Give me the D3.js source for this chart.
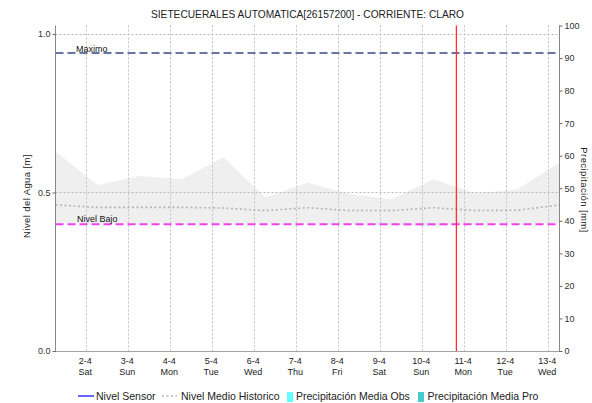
<!DOCTYPE html>
<html>
<head>
<meta charset="utf-8">
<script src="https://cdn.jsdelivr.net/npm/d3@7/dist/d3.min.js"></script>
<style>
  html, body { margin: 0; padding: 0; background: #fff; }
  svg { display: block; font-family: "Liberation Sans", Arial, sans-serif; }
</style>
</head>
<body>
<svg id="chart" width="592" height="403"></svg>
<script>
// ---- data ----
const title = "SIETECUERALES AUTOMATICA[26157200] - CORRIENTE: CLARO";
const dayStamps = ["2022-04-01 06:45","2022-04-02 06:45","2022-04-03 06:45","2022-04-04 06:45",
  "2022-04-05 06:45","2022-04-06 06:45","2022-04-07 06:45","2022-04-08 06:45","2022-04-09 06:45",
  "2022-04-10 06:45","2022-04-11 06:45","2022-04-12 06:45","2022-04-13 06:45"];
const histMax    = [0.629,0.524,0.552,0.542,0.611,0.484,0.531,0.495,0.479,0.542,0.497,0.510,0.594];
const histMin    = [0.402,0.402,0.402,0.402,0.402,0.402,0.402,0.400,0.396,0.392,0.402,0.402,0.402];
const histMedian = [0.461,0.453,0.453,0.453,0.451,0.443,0.452,0.443,0.443,0.452,0.443,0.444,0.461];
const nivelSensor = [];          // no sensor data in window
const precipObs = [];            // no observed precipitation
const precipPro = [];            // no forecast precipitation
const maximo = 0.94;
const nivelBajo = 0.40;
const nowStamp = "2022-04-10 19:50";
const xDomain = ["2022-04-01 06:45", "2022-04-13 06:45"];
const tickDays = ["2022-04-02","2022-04-03","2022-04-04","2022-04-05","2022-04-06","2022-04-07",
  "2022-04-08","2022-04-09","2022-04-10","2022-04-11","2022-04-12","2022-04-13"];
const leftTicks = [0.0, 0.5, 1.0];
const rightTicks = [0,10,20,30,40,50,60,70,80,90,100];
const legendItems = ["Nivel Sensor", "Nivel Medio Historico", "Precipitación Media Obs", "Precipitación Media Pro"];

// ---- layout ----
const svg = d3.select("#chart");
const L = 55.5, R = 559.5, T = 25.5, B = 351;
const pTime = d3.timeParse("%Y-%m-%d %H:%M");
const pDay = d3.timeParse("%Y-%m-%d");
const x = d3.scaleTime().domain(xDomain.map(pTime)).range([L, R]);
const y = d3.scaleLinear().domain([0, 1.0268]).range([B, T]);
const y2 = d3.scaleLinear().domain([0, 100]).range([B, T]);

const rows = dayStamps.map((d, i) => ({t: pTime(d), hi: histMax[i], lo: histMin[i], med: histMedian[i]}));

// title
svg.append("text").attr("x", 151).attr("y", 18)
  .attr("font-size", 11).attr("fill", "#222")
  .attr("textLength", 313).attr("lengthAdjust", "spacingAndGlyphs")
  .text(title);

// band
svg.append("path").datum(rows)
  .attr("fill", "#efefef")
  .attr("d", d3.area().x(d => x(d.t)).y0(d => y(d.lo)).y1(d => y(d.hi)));

// vertical grid
const ticks = tickDays.map(pDay);
svg.append("g").selectAll("line").data(ticks).join("line")
  .attr("x1", d => Math.round(x(d)) + 0.5).attr("x2", d => Math.round(x(d)) + 0.5)
  .attr("y1", T).attr("y2", B)
  .attr("stroke", "#c0c0c0").attr("stroke-dasharray", "2,2");

// horizontal grid
svg.append("g").selectAll("line").data(leftTicks.filter(v => v > 0)).join("line")
  .attr("x1", L).attr("x2", R)
  .attr("y1", d => Math.round(y(d)) + 0.5).attr("y2", d => Math.round(y(d)) + 0.5)
  .attr("stroke", "#b8b8b8").attr("stroke-dasharray", "2,2");
svg.append("line").attr("x1", L).attr("x2", R).attr("y1", B + 0.5).attr("y2", B + 0.5)
  .attr("stroke", "#444").attr("stroke-dasharray", "1,1");

// median historic dotted line
svg.append("path").datum(rows)
  .attr("fill", "none").attr("stroke", "#b4b4b4").attr("stroke-width", 1.6)
  .attr("stroke-dasharray", "2,2.5")
  .attr("d", d3.line().x(d => x(d.t)).y(d => y(d.med)));

// sensor line (empty)
svg.append("path").datum(nivelSensor)
  .attr("fill", "none").attr("stroke", "#0000ff")
  .attr("d", d3.line().x(d => x(pTime(d[0]))).y(d => y(d[1])));

// threshold lines
svg.append("line").attr("x1", L).attr("x2", R).attr("y1", y(maximo)).attr("y2", y(maximo))
  .attr("stroke", "#6a74a0").attr("stroke-width", 2).attr("stroke-dasharray", "8,4");
svg.append("text").attr("x", 76).attr("y", y(maximo) - 1.5).attr("font-size", 9).attr("fill", "#111").text("Maximo");
svg.append("line").attr("x1", L).attr("x2", R).attr("y1", y(nivelBajo)).attr("y2", y(nivelBajo))
  .attr("stroke", "#f040f0").attr("stroke-width", 2).attr("stroke-dasharray", "8,4");
svg.append("text").attr("x", 77).attr("y", y(nivelBajo) - 2.5).attr("font-size", 9).attr("fill", "#111").text("Nivel Bajo");

// now line
svg.append("line").attr("x1", x(pTime(nowStamp))).attr("x2", x(pTime(nowStamp)))
  .attr("y1", T).attr("y2", B).attr("stroke", "#ff3030").attr("stroke-width", 1.3);

// axes lines
svg.append("line").attr("x1", L).attr("x2", L).attr("y1", T).attr("y2", B + 1).attr("stroke", "#888");
svg.append("line").attr("x1", R).attr("x2", R).attr("y1", T).attr("y2", B + 1).attr("stroke", "#888");

// left axis
const gl = svg.append("g").attr("transform", `translate(${L},0)`)
  .call(d3.axisLeft(y).tickValues(leftTicks).tickFormat(d3.format(".1f")).tickSize(3).tickPadding(2));
gl.select(".domain").remove();
gl.selectAll("line").attr("stroke", "#666");
gl.selectAll("text").attr("font-size", 9).attr("fill", "#333").attr("font-family", "Liberation Sans, Arial, sans-serif");

// right axis
const gr = svg.append("g").attr("transform", `translate(${R},0)`)
  .call(d3.axisRight(y2).tickValues(rightTicks).tickSize(3).tickPadding(2));
gr.select(".domain").remove();
gr.selectAll("line").attr("stroke", "#666");
gr.selectAll("text").attr("font-size", 9).attr("fill", "#333").attr("font-family", "Liberation Sans, Arial, sans-serif");

// x tick labels
const fmtD = d3.timeFormat("%-d-%-m");
const fmtW = d3.timeFormat("%a");
const gx = svg.append("g");
gx.selectAll("text.d").data(ticks).join("text").attr("class", "d")
  .attr("x", d => x(d) - 0.5).attr("y", 364).attr("text-anchor", "middle")
  .attr("font-size", 9).attr("fill", "#222").text(fmtD);
gx.selectAll("text.w").data(ticks).join("text").attr("class", "w")
  .attr("x", d => x(d) - 0.5).attr("y", 375).attr("text-anchor", "middle")
  .attr("font-size", 9).attr("fill", "#222").text(fmtW);

// axis titles
svg.append("text").attr("transform", "translate(30,196) rotate(-90)")
  .attr("text-anchor", "middle").attr("font-size", 9.5).attr("letter-spacing", 0.4)
  .attr("fill", "#222").text("Nivel del Agua [m]");
svg.append("text").attr("transform", "translate(581,190) rotate(90)")
  .attr("text-anchor", "middle").attr("font-size", 9.5).attr("letter-spacing", 0.4)
  .attr("fill", "#222").text("Precipitación [mm]");

// legend
const lg = svg.append("g").attr("font-size", 10.5).attr("fill", "#222");
const ly = 396;
lg.append("line").attr("x1", 78).attr("x2", 94).attr("y1", ly).attr("y2", ly).attr("stroke", "#0000ff").attr("stroke-width", 1.2);
lg.append("text").attr("x", 96).attr("y", ly + 4).text(legendItems[0]);
lg.append("line").attr("x1", 162).attr("x2", 177).attr("y1", ly).attr("y2", ly).attr("stroke", "#b4b4b4").attr("stroke-width", 1.3).attr("stroke-dasharray", "2,2.5");
lg.append("text").attr("x", 181).attr("y", ly + 4).text(legendItems[1]);
lg.append("rect").attr("x", 287).attr("y", ly - 4).attr("width", 6).attr("height", 10).attr("fill", "#66ffff");
lg.append("text").attr("x", 296).attr("y", ly + 4).text(legendItems[2]);
lg.append("rect").attr("x", 418).attr("y", ly - 4).attr("width", 6).attr("height", 10).attr("fill", "#44cccc");
lg.append("text").attr("x", 427.5).attr("y", ly + 4).text(legendItems[3]);
</script>
</body>
</html>
